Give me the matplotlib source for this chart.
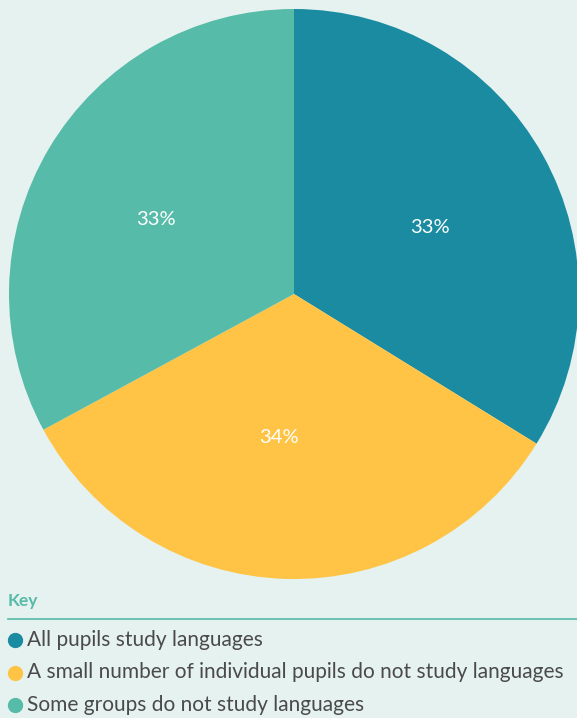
import matplotlib
matplotlib.use("Agg")
import matplotlib.pyplot as plt
import numpy as np

# slice shares, printed labels as shown
labels = ['All pupils study languages',
          'A small number of individual pupils do not study languages',
          'Some groups do not study languages']
shares = [33.8, 33.3, 32.9]
pct_text = ['33%', '34%', '33%']
colors = ['#1a8ba0', '#ffc445', '#56bba8']

bg = '#e6f2ef'
W, H = 577, 718
fig = plt.figure(figsize=(W / 100, H / 100), dpi=100, facecolor=bg)

# pie axes placed in pixel terms: centre (294, 294), radius 285
cx, cy, r = 294, 294, 285
ax = fig.add_axes([(cx - r) / W, (H - cy - r) / H, 2 * r / W, 2 * r / H])
ax.set_facecolor(bg)
wedges, _ = ax.pie(shares, colors=colors, startangle=90, counterclock=False,
                   radius=1, wedgeprops=dict(linewidth=0))
ax.set_xlim(-1, 1)
ax.set_ylim(-1, 1)
ax.set_aspect('equal')
ax.axis('off')

# label distance (fraction of radius) and small angle nudge per slice
lab_dist = [0.53, 0.505, 0.55]
lab_nudge = [-3, -4.5, 2.5]
for w, t, d, n in zip(wedges, pct_text, lab_dist, lab_nudge):
    ang = np.deg2rad((w.theta1 + w.theta2) / 2 + n)
    ax.text(d * np.cos(ang), d * np.sin(ang), t, color='white',
            ha='center', va='center', fontsize=14.5, family='Lato')

# key
fig.text(8 / W, 1 - 601 / H, 'Key', color='#56bba8', fontsize=12.5,
         fontweight='bold', family='Lato', va='center', ha='left')
fig.add_artist(plt.Line2D([8 / W, 1], [1 - 619 / H, 1 - 619 / H],
                          color='#56bba8', linewidth=1.2))
for i, (lab, col) in enumerate(zip(labels, colors)):
    y = 1 - (640 + 32.5 * i) / H
    fig.add_artist(plt.Line2D([15 / W], [y], marker='o', markersize=10,
                              color=col, linestyle='none'))
    fig.text(27 / W, y, lab, color='#4a4a4a', fontsize=15, family='Lato',
             va='center', ha='left')

fig.savefig('out.png', dpi=100, facecolor=bg)
